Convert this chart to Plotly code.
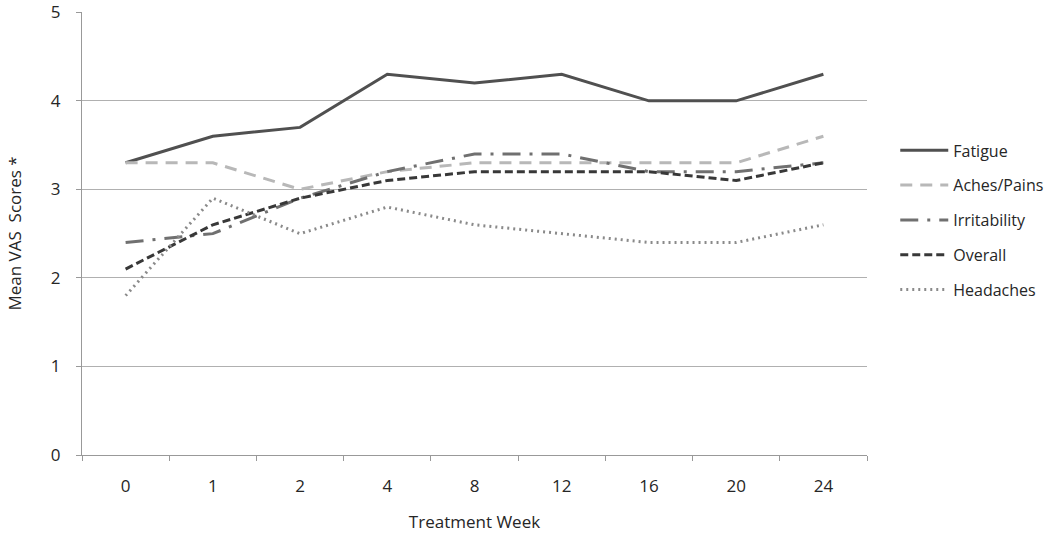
import plotly.graph_objects as go

weeks = ["0", "1", "2", "4", "8", "12", "16", "20", "24"]
fatigue = [3.3, 3.6, 3.7, 4.3, 4.2, 4.3, 4.0, 4.0, 4.3]
aches = [3.3, 3.3, 3.0, 3.2, 3.3, 3.3, 3.3, 3.3, 3.6]
irritability = [2.4, 2.5, 2.9, 3.2, 3.4, 3.4, 3.2, 3.2, 3.3]
overall = [2.1, 2.6, 2.9, 3.1, 3.2, 3.2, 3.2, 3.1, 3.3]
headaches = [1.8, 2.9, 2.5, 2.8, 2.6, 2.5, 2.4, 2.4, 2.6]

series = [
    ("Fatigue", fatigue, "#505050", "solid", 3),
    ("Aches/Pains", aches, "#b8b8b8", "12px,8px", 3),
    ("Irritability", irritability, "#707070", "18px,9px,3px,9px", 3),
    ("Overall", overall, "#383838", "8px,4px", 3),
    ("Headaches", headaches, "#8a8a8a", "2px,4px", 3),
]

fig = go.Figure()
for i, (name, vals, col, dash, w) in enumerate(series):
    fig.add_trace(go.Scatter(
        x=weeks, y=vals, name=name, mode="lines",
        line=dict(color=col, width=w, dash=dash),
        legendgroup=f"g{i}",
    ))

font = "Open Sans, Liberation Sans, sans-serif"
txt = "#262626"
fig.update_layout(
    width=1050, height=536,
    margin=dict(l=82, r=183, t=12, b=81, autoexpand=False),
    paper_bgcolor="white", plot_bgcolor="white",
    font=dict(family=font, size=17, color=txt),
    showlegend=True,
    legend=dict(
        x=1.036, y=0.726, xanchor="left", yanchor="top",
        font=dict(size=16, color=txt),
        traceorder="grouped", tracegroupgap=11,
        itemwidth=48,
        bgcolor="rgba(0,0,0,0)",
    ),
    xaxis=dict(
        type="category",
        range=[-0.5, 8.5],
        automargin=False,
        title=dict(text="Treatment Week", font=dict(size=17, color=txt), standoff=19),
        showline=True, linecolor="#999999", linewidth=1,
        ticks="outside", ticklen=5, tickcolor="#999999", tickson="boundaries",
        ticklabelstandoff=16,
        showgrid=False, zeroline=False,
        tickfont=dict(size=17, color=txt),
    ),
    yaxis=dict(
        range=[0, 5.003], tickvals=[0, 1, 2, 3, 4, 5],
        automargin=False,
        ticklabeloverflow="allow",
        title=dict(text="Mean VAS  Scores *", font=dict(size=17, color=txt), standoff=24),
        showline=True, linecolor="#999999", linewidth=1,
        ticks="outside", ticklen=5, tickcolor="#999999",
        ticklabelstandoff=12,
        showgrid=True, gridcolor="#b0b0b0", gridwidth=1,
        zeroline=False,
        tickfont=dict(size=17, color=txt),
    ),
)

fig.write_html("out.html", config={"displayModeBar": False},
               post_script="document.body.style.margin='0px';")
